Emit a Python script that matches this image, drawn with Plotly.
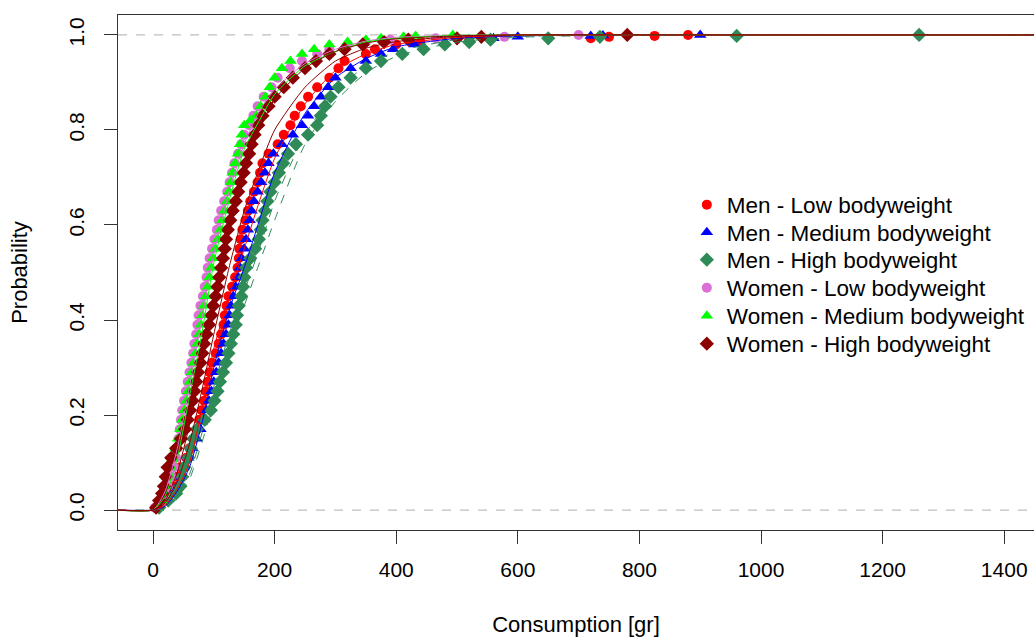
import plotly.graph_objects as go

# ---------------- data ----------------
group_names = ["Men - Low bodyweight", "Men - Medium bodyweight", "Men - High bodyweight",
               "Women - Low bodyweight", "Women - Medium bodyweight", "Women - High bodyweight"]
group_colors = ["#FF0000", "#0000FF", "#2E8B57", "#DA70D6", "#00FF00", "#8B0000"]
group_symbols = ["circle", "triangle-up", "diamond", "circle", "triangle-up", "diamond"]

# empirical CDF points: consumption [gr] and probability
men_low_x = [5, 15, 28, 35, 40, 45, 55, 60, 67, 72, 76, 80, 84, 87, 90, 93, 97, 103, 108, 112, 116, 118, 121, 124,
             130, 135, 139, 141, 142, 144, 147, 152, 156, 160, 166, 172, 176, 180, 190, 205, 215, 226, 233, 243, 255,
             270, 290, 305, 315, 350, 365, 400, 440, 520, 720, 750, 825, 880]
men_low_y = [0.005, 0.02, 0.035, 0.05, 0.07, 0.09, 0.11, 0.13, 0.15, 0.17, 0.19, 0.21, 0.23, 0.25, 0.27, 0.29, 0.31,
             0.33, 0.35, 0.37, 0.39, 0.41, 0.43, 0.45, 0.47, 0.49, 0.51, 0.53, 0.55, 0.57, 0.59, 0.61, 0.63, 0.65, 0.67,
             0.69, 0.71, 0.73, 0.75, 0.77, 0.79, 0.81, 0.83, 0.85, 0.87, 0.89, 0.91, 0.93, 0.945, 0.96, 0.97, 0.98,
             0.985, 0.99, 0.993, 0.996, 0.998, 1.0]

men_med_x = [8, 20, 32, 40, 45, 50, 58, 65, 72, 78, 83, 88, 92, 96, 100, 104, 108, 112, 116, 120, 124, 126, 128, 132,
             136, 140, 143, 146, 150, 153, 156, 159, 162, 166, 172, 178, 184, 190, 198, 212, 230, 245, 255, 265, 276,
             288, 300, 325, 350, 375, 395, 430, 480, 520, 560, 600, 720, 740, 900]
men_med_y = [0.005, 0.02, 0.035, 0.05, 0.07, 0.09, 0.11, 0.13, 0.15, 0.17, 0.19, 0.21, 0.23, 0.25, 0.27, 0.29, 0.31,
             0.33, 0.35, 0.37, 0.39, 0.41, 0.43, 0.45, 0.47, 0.49, 0.51, 0.53, 0.55, 0.57, 0.59, 0.61, 0.63, 0.65, 0.67,
             0.69, 0.71, 0.73, 0.75, 0.77, 0.79, 0.81, 0.83, 0.85, 0.87, 0.89, 0.91, 0.93, 0.945, 0.96, 0.97, 0.98,
             0.985, 0.99, 0.993, 0.996, 0.998, 0.999, 1.0]

men_high_x = [10, 25, 38, 45, 48, 51, 58, 62, 66, 72, 85, 95, 101, 106, 110, 115, 120, 124, 128, 132, 136, 138, 141,
              145, 148, 150, 153, 160, 168, 174, 177, 180, 184, 188, 193, 200, 207, 214, 222, 235, 255, 270, 276, 283,
              292, 305, 325, 350, 375, 410, 445, 480, 520, 555, 650, 735, 960, 1260]
men_high_y = [0.005, 0.02, 0.035, 0.05, 0.07, 0.09, 0.11, 0.13, 0.15, 0.17, 0.19, 0.21, 0.23, 0.25, 0.27, 0.29, 0.31,
              0.33, 0.35, 0.37, 0.39, 0.41, 0.43, 0.45, 0.47, 0.49, 0.51, 0.53, 0.55, 0.57, 0.59, 0.61, 0.63, 0.65,
              0.67, 0.69, 0.71, 0.73, 0.75, 0.77, 0.79, 0.81, 0.83, 0.85, 0.87, 0.89, 0.91, 0.93, 0.945, 0.96, 0.97,
              0.98, 0.985, 0.99, 0.993, 0.996, 0.998, 1.0]

women_low_x = [3, 12, 20, 25, 30, 35, 38, 40, 42, 44, 46, 48, 51, 54, 57, 60, 63, 66, 68, 71, 73, 75, 78, 82, 85, 88,
               90, 93, 97, 101, 105, 108, 112, 117, 122, 126, 130, 134, 140, 145, 150, 158, 165, 172, 182, 195, 205,
               225, 245, 270, 290, 320, 350, 390, 465, 578, 700]
women_low_y = [0.005, 0.02, 0.035, 0.05, 0.07, 0.09, 0.11, 0.13, 0.15, 0.17, 0.19, 0.21, 0.23, 0.25, 0.27, 0.29, 0.31,
               0.33, 0.35, 0.37, 0.39, 0.41, 0.43, 0.45, 0.47, 0.49, 0.51, 0.53, 0.55, 0.57, 0.59, 0.61, 0.63, 0.65,
               0.67, 0.69, 0.71, 0.73, 0.75, 0.77, 0.79, 0.81, 0.83, 0.85, 0.87, 0.89, 0.91, 0.93, 0.945, 0.96, 0.97,
               0.98, 0.985, 0.99, 0.993, 0.996, 1.0]

women_med_x = [5, 14, 18, 20, 23, 27, 32, 37, 41, 45, 48, 52, 55, 58, 61, 64, 67, 70, 73, 76, 79, 81, 84, 87, 90, 93,
               96, 99, 103, 107, 111, 114, 118, 122, 125, 128, 131, 135, 140, 143, 146, 150, 160, 170, 177, 185, 192,
               200, 212, 226, 245, 265, 290, 320, 350, 375, 412, 432, 493]
women_med_y = [0.005, 0.02, 0.035, 0.05, 0.07, 0.09, 0.11, 0.13, 0.15, 0.17, 0.19, 0.21, 0.23, 0.25, 0.27, 0.29, 0.31,
               0.33, 0.35, 0.37, 0.39, 0.41, 0.43, 0.45, 0.47, 0.49, 0.51, 0.53, 0.55, 0.57, 0.59, 0.61, 0.63, 0.65,
               0.67, 0.69, 0.71, 0.73, 0.75, 0.77, 0.79, 0.81, 0.82, 0.83, 0.85, 0.87, 0.89, 0.91, 0.93, 0.945, 0.96,
               0.97, 0.98, 0.985, 0.99, 0.993, 0.996, 0.998, 1.0]

women_high_x = [5, 10, 15, 18, 21, 24, 30, 38, 46, 53, 57, 61, 65, 68, 71, 74, 78, 81, 84, 88, 92, 96, 99, 103, 106,
                109, 112, 115, 118, 120, 123, 127, 131, 136, 140, 144, 149, 153, 158, 162, 167, 173, 180, 190, 200,
                215, 230, 250, 268, 290, 315, 345, 380, 420, 500, 540, 780]
women_high_y = [0.005, 0.02, 0.035, 0.05, 0.07, 0.09, 0.11, 0.13, 0.15, 0.17, 0.19, 0.21, 0.23, 0.25, 0.27, 0.29,
                0.31, 0.33, 0.35, 0.37, 0.39, 0.41, 0.43, 0.45, 0.47, 0.49, 0.51, 0.53, 0.55, 0.57, 0.59, 0.61, 0.63,
                0.65, 0.67, 0.69, 0.71, 0.73, 0.75, 0.77, 0.79, 0.81, 0.83, 0.85, 0.87, 0.89, 0.91, 0.93, 0.945, 0.96,
                0.97, 0.98, 0.985, 0.99, 0.993, 0.996, 1.0]

# fitted CDF curves, read at a common set of consumption values
fit_x = [-60, 0, 20, 40, 60, 80, 100, 125, 150, 175, 200, 250, 300, 350, 400, 500, 600, 800, 1500]
fit_men_low = [0, 0, 0.01, 0.045, 0.10, 0.21, 0.34, 0.45, 0.55, 0.65, 0.74, 0.855, 0.925, 0.96, 0.98, 0.995, 0.999, 1, 1]
fit_men_med = [0, 0, 0.008, 0.04, 0.09, 0.18, 0.30, 0.42, 0.51, 0.61, 0.71, 0.835, 0.91, 0.95, 0.975, 0.993, 0.998, 1, 1]
fit_men_high_a = [0, 0, 0.005, 0.03, 0.075, 0.16, 0.26, 0.37, 0.46, 0.55, 0.65, 0.79, 0.88, 0.935, 0.965, 0.99, 0.997, 1, 1]
fit_men_high_b = [0, 0, 0.004, 0.025, 0.065, 0.14, 0.23, 0.34, 0.43, 0.52, 0.61, 0.77, 0.86, 0.92, 0.955, 0.985, 0.995, 1, 1]
fit_women_low = [0, 0, 0.04, 0.13, 0.26, 0.40, 0.54, 0.67, 0.77, 0.84, 0.885, 0.94, 0.97, 0.987, 0.995, 0.999, 1, 1, 1]
fit_women_med = [0, 0, 0.03, 0.11, 0.24, 0.37, 0.52, 0.65, 0.76, 0.82, 0.875, 0.935, 0.965, 0.985, 0.993, 0.999, 1, 1, 1]
fit_women_high_a = [0, 0, 0.02, 0.08, 0.18, 0.32, 0.45, 0.60, 0.72, 0.80, 0.865, 0.93, 0.965, 0.983, 0.992, 0.998, 1, 1, 1]
fit_women_high_b = [0, 0, 0.015, 0.06, 0.14, 0.25, 0.37, 0.51, 0.63, 0.72, 0.80, 0.89, 0.945, 0.972, 0.986, 0.997, 1, 1, 1]

x_ticks = [0, 200, 400, 600, 800, 1000, 1200, 1400]
y_ticks = [0.0, 0.2, 0.4, 0.6, 0.8, 1.0]
y_tick_labels = ["0.0", "0.2", "0.4", "0.6", "0.8", "1.0"]

# ---------------- figure ----------------
FONT = "Liberation Sans, Arial, sans-serif"
fig = go.Figure()

points = [(men_low_x, men_low_y), (men_med_x, men_med_y), (men_high_x, men_high_y),
          (women_low_x, women_low_y), (women_med_x, women_med_y), (women_high_x, women_high_y)]
marker_sizes = [10, 11, 11, 10, 11, 11]
legend_ids = ["legend", "legend2", "legend3", "legend4", "legend5", "legend6"]
for (px, py), name, col, sym, ms, lg in zip(points, group_names, group_colors, group_symbols,
                                             marker_sizes, legend_ids):
    fig.add_trace(go.Scatter(x=px, y=py, mode="markers", name=name, legend=lg,
                             marker=dict(color=col, symbol=sym, size=ms, line=dict(width=0))))

fits = [(fit_men_high_a, "#2E8B57", "dash"), (fit_men_high_b, "#2E8B57", "dash"),
        (fit_men_med, "#0000FF", "solid"), (fit_men_low, "#FF0000", "solid"),
        (fit_women_low, "#DA70D6", "solid"), (fit_women_med, "#00FF00", "solid"),
        (fit_women_high_a, "#8B0000", "solid"), (fit_women_high_b, "#8B0000", "solid")]
for fy, col, dash in fits:
    fig.add_trace(go.Scatter(x=fit_x, y=fy, mode="lines", showlegend=False, hoverinfo="skip",
                             line=dict(color=col, width=1, dash=dash, shape="spline", smoothing=0.6)))

for yv in [0, 1]:
    fig.add_shape(type="line", xref="paper", x0=0, x1=1, yref="y", y0=yv, y1=yv,
                  line=dict(color="#BEBEBE", width=1.3, dash="dash"), layer="below")

# one single-entry legend per group, so the row spacing can follow the reference
legend_rows_px = [205, 232.5, 260, 288, 316, 344]
plot_top, plot_bottom = 15, 530
legend_layout = {}
for lg, rp in zip(legend_ids, legend_rows_px):
    legend_layout[lg] = dict(x=0.621, y=(plot_bottom - rp) / (plot_bottom - plot_top),
                             xanchor="left", yanchor="middle", bgcolor="rgba(0,0,0,0)",
                             font=dict(family=FONT, size=22.5, color="#000000"), itemwidth=30)

fig.update_layout(
    width=1034, height=642,
    margin=dict(l=118, r=0, t=plot_top, b=642 - plot_bottom),
    paper_bgcolor="white", plot_bgcolor="white",
    font=dict(family=FONT, size=22, color="#000000"),
    showlegend=True,
    xaxis=dict(range=[-57.6, 1449], tickmode="array", tickvals=x_ticks,
               ticks="outside", ticklen=13, tickcolor="#333333", tickwidth=1,
               showline=True, linecolor="#333333", linewidth=1, mirror=True,
               showgrid=False, zeroline=False,
               tickfont=dict(family=FONT, size=21), ticklabelstandoff=8,
               title=dict(text="Consumption [gr]", font=dict(family=FONT, size=22), standoff=36)),
    yaxis=dict(range=[-0.042, 1.042], tickmode="array", tickvals=y_ticks, ticktext=y_tick_labels,
               ticks="outside", ticklen=13, tickcolor="#333333", tickwidth=1,
               showline=True, linecolor="#333333", linewidth=1, mirror=False,
               showgrid=False, zeroline=False, tickangle=-90,
               tickfont=dict(family=FONT, size=21), ticklabelstandoff=12,
               title=dict(text="Probability", font=dict(family=FONT, size=22), standoff=30)),
    **legend_layout,
)

fig.write_html("out.html")
